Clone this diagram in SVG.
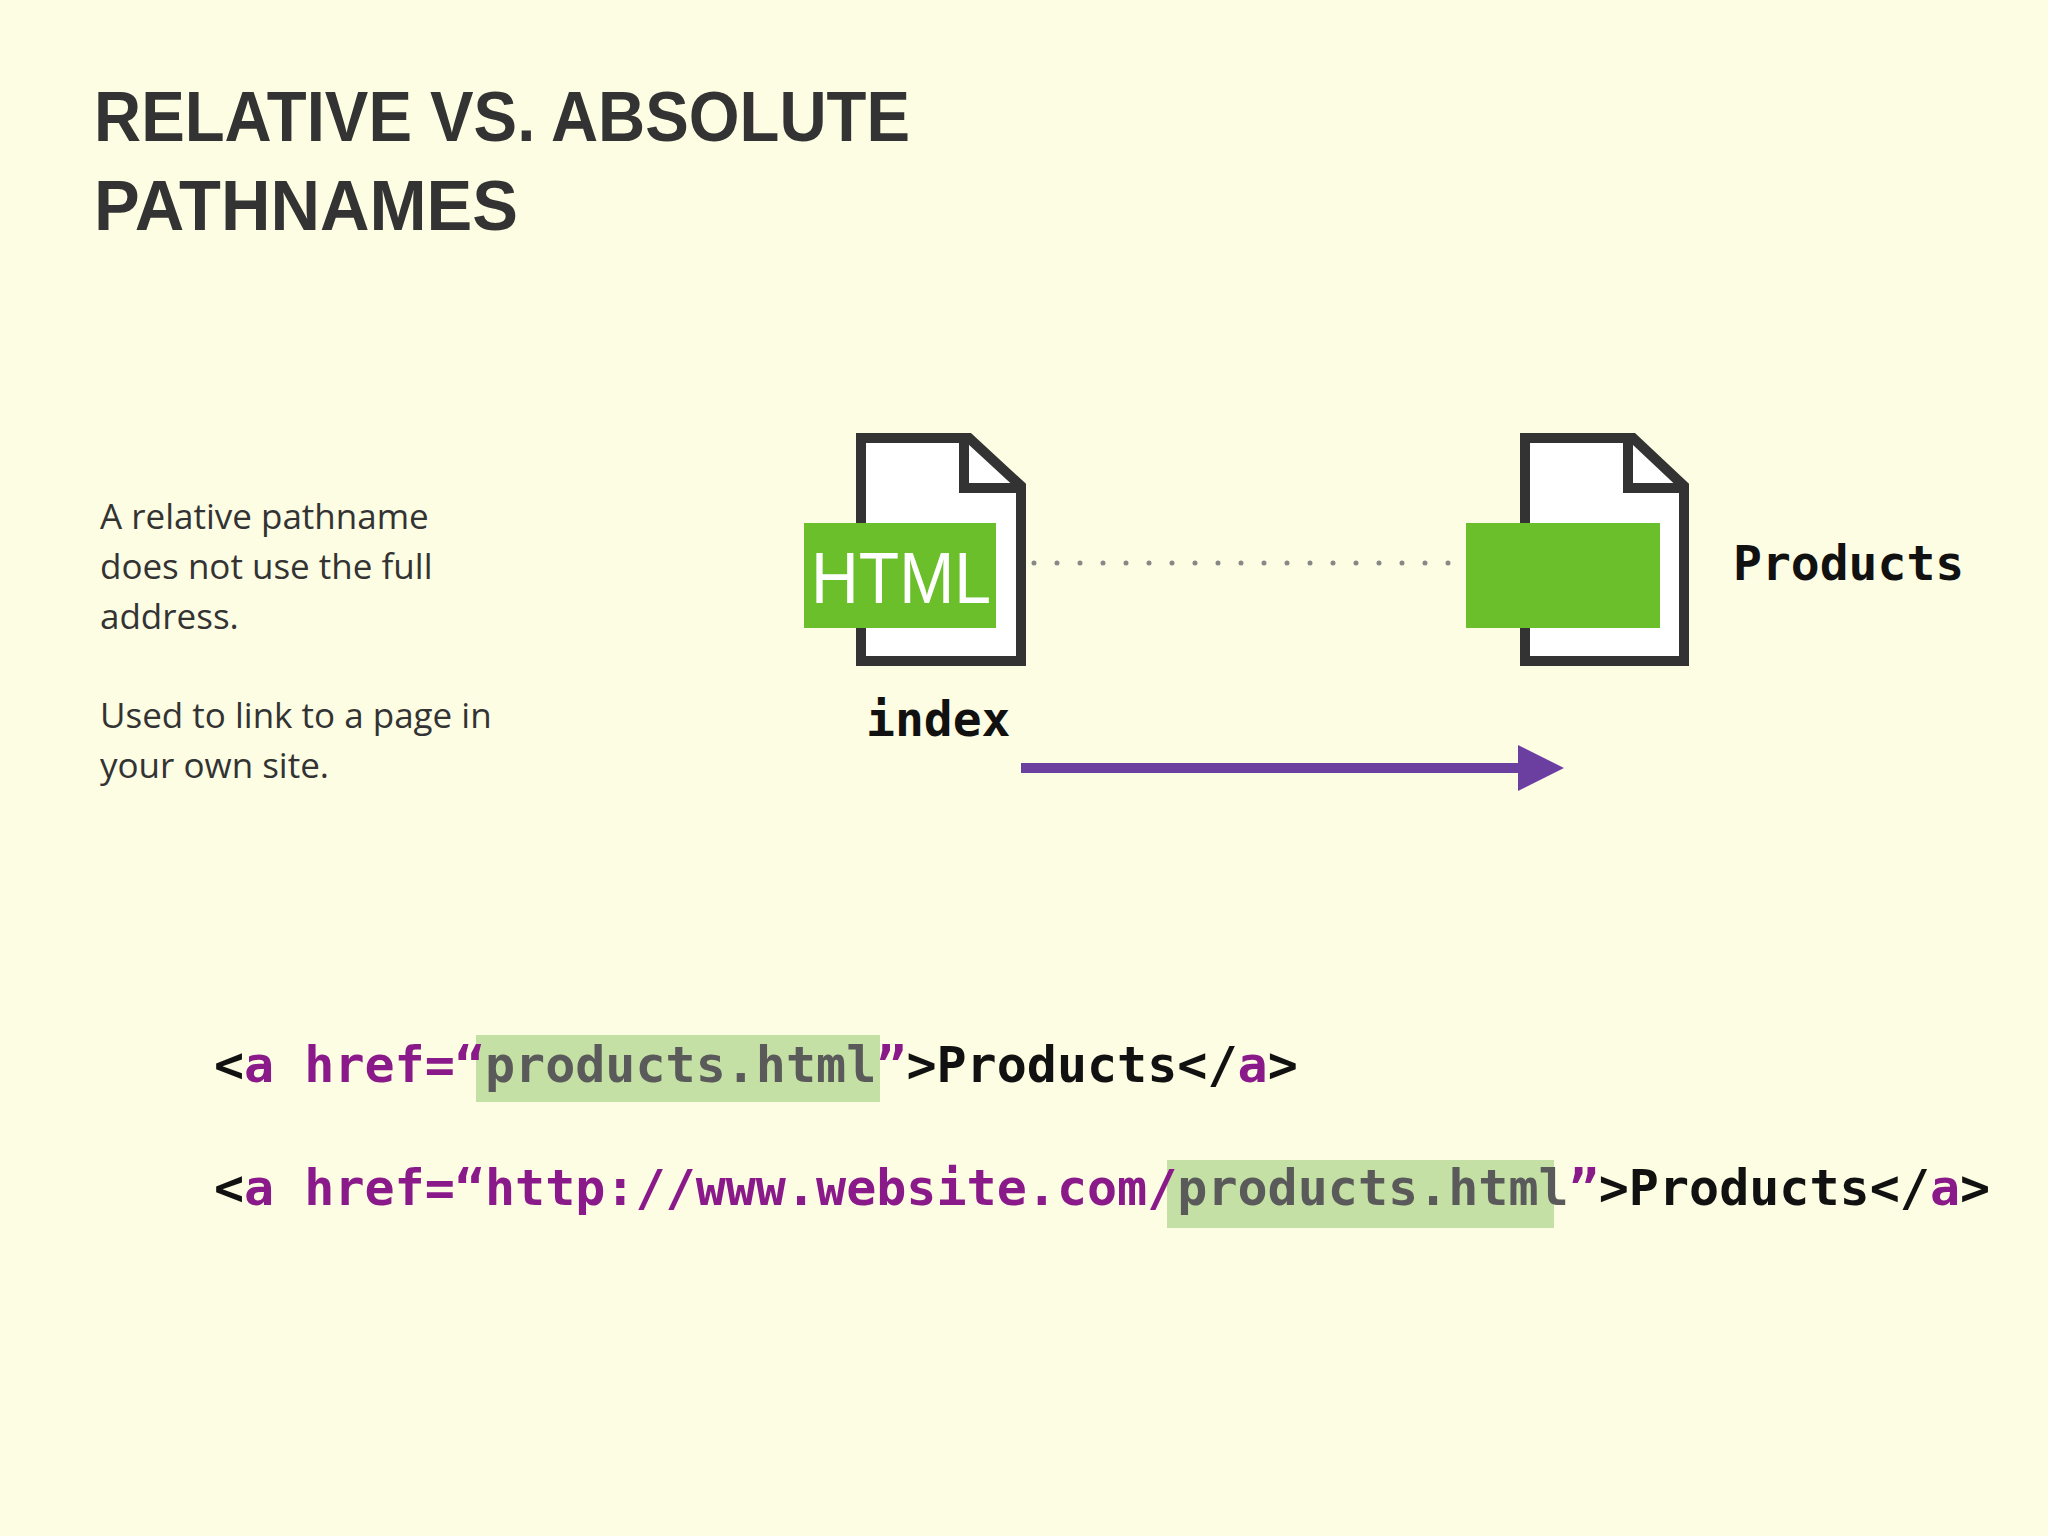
<svg xmlns="http://www.w3.org/2000/svg" width="2048" height="1536" viewBox="0 0 2048 1536">
<style>
.title{font-family:"Liberation Sans",Arial,sans-serif;font-weight:bold;font-size:70px;fill:#333}
.body{font-family:"Open Sans","Noto Sans",sans-serif;font-size:35px;fill:#333}
.lbl{font-family:"DejaVu Sans Mono",monospace;font-weight:bold;font-size:48px;fill:#111}
.code{font-family:"DejaVu Sans Mono",monospace;font-weight:bold;font-size:50px;fill:#111}
.p{fill:#8a1a8a}.g{fill:#5a5a5a}
.doc{fill:#fff;stroke:#333;stroke-width:10;stroke-linejoin:miter}
.tag{fill:#6abf2a}
.hl{fill:#c4e0a4}
</style>
<rect width="2048" height="1536" fill="#fdfde3"/>
<text class="title" x="94" y="141" textLength="816" lengthAdjust="spacingAndGlyphs">RELATIVE VS. ABSOLUTE</text>
<text class="title" x="94" y="230" textLength="424" lengthAdjust="spacingAndGlyphs">PATHNAMES</text>
<g id="desc">
<text class="body" x="100" y="529">A relative pathname</text>
<text class="body" x="100" y="579">does not use the full</text>
<text class="body" x="100" y="629">address.</text>
<text class="body" x="100" y="728">Used to link to a page in</text>
<text class="body" x="100" y="778">your own site.</text>
</g>
<g id="connectors">
<line x1="1034" y1="563" x2="1462" y2="563" stroke="#888" stroke-width="5" stroke-linecap="round" stroke-dasharray="0 23"/>
<line x1="1021" y1="768" x2="1525" y2="768" stroke="#6b3fa0" stroke-width="10"/>
<polygon points="1518,745 1564,768 1518,791" fill="#6b3fa0"/>
</g>
<g id="index">
<path class="doc" d="M861,438 H969 L1021,486 V661 H861 Z"/>
<path d="M964,438 V488 H1021" fill="none" stroke="#333" stroke-width="10"/>
<rect class="tag" x="804" y="523" width="192" height="105"/>
<text x="811" y="603" font-family="Liberation Sans,Arial,sans-serif" font-size="72" fill="#fff" textLength="180" lengthAdjust="spacingAndGlyphs">HTML</text>
<text class="lbl" x="866" y="736">index</text>
</g>
<g id="products">
<path class="doc" d="M1525,438 H1633 L1684,486 V661 H1525 Z"/>
<path d="M1628,438 V488 H1684" fill="none" stroke="#333" stroke-width="10"/>
<rect class="tag" x="1466" y="523" width="194" height="105"/>
<text class="lbl" x="1733" y="580">Products</text>
</g>
<g id="code">
<rect class="hl" x="476" y="1035" width="404" height="67"/>
<rect class="hl" x="1167" y="1160" width="387" height="68"/>
<text class="code" x="214" y="1082">&lt;<tspan class="p">a href=“</tspan><tspan class="g">products.html</tspan><tspan class="p">”</tspan>&gt;Products&lt;/<tspan class="p">a</tspan>&gt;</text>
<text class="code" x="214" y="1205">&lt;<tspan class="p">a href=“http://www.website.com/</tspan><tspan class="g">products.html</tspan><tspan class="p">”</tspan>&gt;Products&lt;/<tspan class="p">a</tspan>&gt;</text>
</g>
</svg>
